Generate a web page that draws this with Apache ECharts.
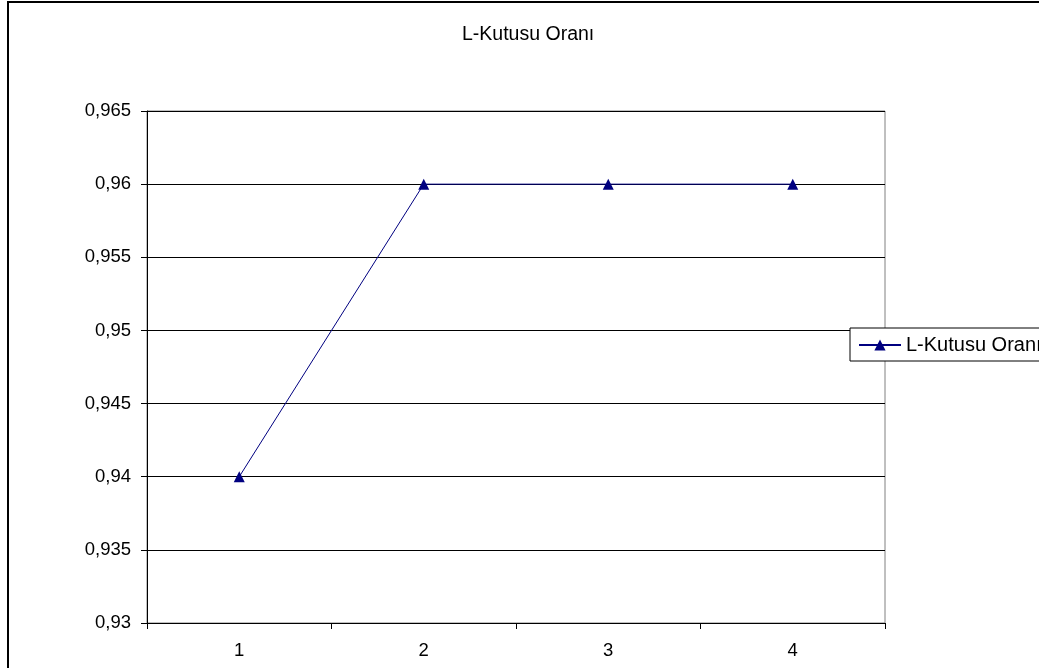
<!DOCTYPE html>
<html>
<head>
<meta charset="utf-8">
<style>
  html, body { margin: 0; padding: 0; background: #fff; }
  #chart { width: 1039px; height: 668px; }
</style>
<script src="https://cdn.jsdelivr.net/npm/echarts@6/dist/echarts.min.js"></script>
</head>
<body>
<div id="chart"></div>
<script>
// data
var categories = ['1', '2', '3', '4'];
var ratioValues = [0.94, 0.96, 0.96, 0.96];
var seriesName = 'L-Kutusu Oranı';
var titleText = 'L-Kutusu Oranı';

var chart = echarts.init(document.getElementById('chart'));

function fmt(v) {
  return String(+(+v).toFixed(3)).replace('.', ',');
}

var option = {
  animation: false,
  backgroundColor: '#fff',
  textStyle: { fontFamily: 'Arial, "Liberation Sans", sans-serif' },
  title: {
    text: titleText,
    left: 462,
    top: 25,
    padding: 0,
    textStyle: { fontSize: 19.5, fontWeight: 'normal', color: '#000', fontFamily: 'Arial, "Liberation Sans", sans-serif' }
  },
  legend: {
    data: [seriesName],
    left: 850,
    top: 328,
    orient: 'vertical',
    padding: [7, 40, 6, 8],
    itemWidth: 42,
    itemHeight: 14,
    borderColor: '#000',
    borderWidth: 1,
    backgroundColor: '#fff',
    textStyle: { fontSize: 20, color: '#000' }
  },
  grid: {
    left: 147,
    right: 154,
    top: 111,
    bottom: 45,
    show: true,
    borderColor: '#808080',
    borderWidth: 1
  },
  xAxis: {
    type: 'category',
    data: categories,
    boundaryGap: true,
    axisLine: { lineStyle: { color: '#000', width: 1 } },
    axisTick: { show: true, length: 6, lineStyle: { color: '#000' } },
    axisLabel: { color: '#000', fontSize: 18.5, margin: 18 },
    splitLine: { show: false }
  },
  yAxis: {
    type: 'value',
    min: 0.93,
    max: 0.965,
    interval: 0.005,
    axisLine: { show: true, lineStyle: { color: '#000', width: 1 } },
    axisTick: { show: true, length: 6, lineStyle: { color: '#000' } },
    axisLabel: { color: '#000', fontSize: 18.5, margin: 16, formatter: fmt },
    splitLine: { show: true, lineStyle: { color: '#000', width: 1 } }
  },
  series: [{
    name: seriesName,
    type: 'line',
    data: ratioValues,
    symbol: 'triangle',
    symbolSize: 11,
    lineStyle: { color: '#000080', width: 1 },
    itemStyle: { color: '#000080' }
  }],
  graphic: [{
    type: 'rect',
    shape: { x: 8, y: 2, width: 1100, height: 720 },
    style: { fill: null, stroke: '#000', lineWidth: 2 },
    silent: true,
    z: 100
  }]
};

chart.setOption(option);
</script>
</body>
</html>
